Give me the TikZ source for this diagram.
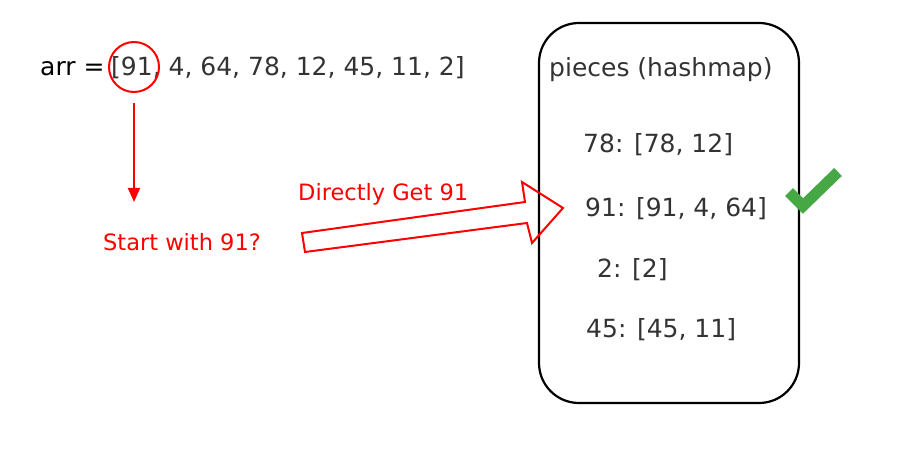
\documentclass[tikz,border=0pt]{standalone}
\usepackage{fontspec}
\setmainfont{DejaVu Sans}
\usepackage{tikz}
\usetikzlibrary{positioning,calc,arrows.meta}
\definecolor{hmred}{HTML}{FF0000}
\definecolor{hmtext}{HTML}{333333}
\definecolor{hmgreen}{HTML}{45A845}
\begin{document}
\begin{tikzpicture}[x=1pt,y=-1pt,
  bigtext/.style={font=\fontsize{25}{30}\selectfont, text=hmtext, inner sep=0pt, anchor=base west},
  redtext/.style={font=\fontsize{22.5}{27}\selectfont, text=hmred, inner sep=0pt, anchor=base west},
  redline/.style={draw=hmred, line width=2pt},
]
\useasboundingbox (0,0) rectangle (904,462);

% array line
\node[bigtext, text=black] (arr) at (40,76) {arr =};
\node[bigtext] (list) at (111,76) {[91, 4, 64, 78, 12, 45, 11, 2]};
\node[redline, circle, minimum size=50pt, inner sep=0pt] (c91) at (134,67) {};
\coordinate (arrend) at (134,202);
\draw[redline, -{Triangle[length=14pt,width=12pt]}] ([yshift=-10pt]c91.south) -- (arrend);
\node[redtext] (start) at (103,251) {Start with 91?};
\node[redtext] (direct) at (298,201) {Directly Get 91};

% hashmap box
\node[draw=black, line width=2.2pt, rounded corners=40pt, minimum width=260pt, minimum height=380pt,
  inner sep=0pt] (pieces) at (669,213) {};
\node[bigtext] (title) at (549,77) {pieces (hashmap)};
\node[bigtext] (k78) at (583,153) {78: [78, 12]};
\node[bigtext] (k91) at (585,217) {91: [91, 4, 64]};
\node[bigtext] (k2)  at (597,277) {2: [2]};
\node[bigtext] (k45) at (586,337) {45: [45, 11]};

% block arrow into the box
\draw[redline, line join=miter] (302,233) -- (525,202) -- (522,182) -- (563,208)
  -- (532,243) -- (527,223) -- (305,252) -- cycle;

% check mark
\draw[hmgreen, line width=11pt] (789,192) -- (803,206) -- (838,172);
\end{tikzpicture}
\end{document}
